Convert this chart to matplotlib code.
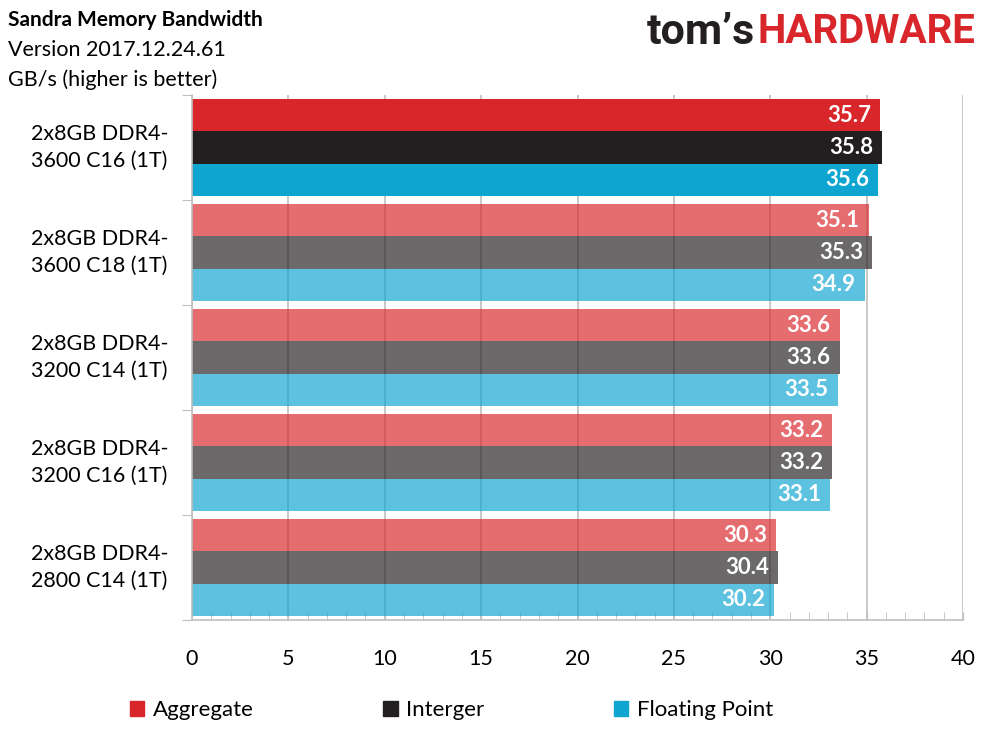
import numpy as np
import matplotlib.pyplot as plt
from matplotlib.patches import Patch
from matplotlib.ticker import MultipleLocator

# data
configs = ["2x8GB DDR4-\n3600 C16 (1T)", "2x8GB DDR4-\n3600 C18 (1T)",
           "2x8GB DDR4-\n3200 C14 (1T)", "2x8GB DDR4-\n3200 C16 (1T)",
           "2x8GB DDR4-\n2800 C14 (1T)"]
series = ["Aggregate", "Interger", "Floating Point"]
aggregate = [35.7, 35.1, 33.6, 33.2, 30.3]
integer = [35.8, 35.3, 33.6, 33.2, 30.4]
floating = [35.6, 34.9, 33.5, 33.1, 30.2]

colors = ["#d9262a", "#231f20", "#0ea5d1"]
plt.rcParams['font.family'] = ['Lato', 'DejaVu Sans']

fig = plt.figure(figsize=(9.89, 7.41), dpi=100)
ax = fig.add_axes([192/989, 1-620/741, 771/989, 525/741])

ypos = np.arange(len(configs))
h = 0.305
for k, vals in enumerate([aggregate, integer, floating]):
    for i, v in enumerate(vals):
        alpha = 1.0 if i == 0 else 0.67
        ax.barh(ypos[i] + (k-1)*h, v, height=h, color=colors[k], alpha=alpha, zorder=2)
        ax.annotate(f"{v:.1f}", (v, ypos[i] + (k-1)*h), xytext=(-6.5, 0),
                    textcoords='offset points', ha='right', va='center',
                    color='white', fontsize=16, fontweight='bold', zorder=3)

ax.set_xlim(0, 40)
ax.set_ylim(len(configs)-0.5, -0.5)
ax.xaxis.set_major_locator(MultipleLocator(5))
ax.xaxis.set_minor_locator(MultipleLocator(1))
ax.grid(axis='x', which='major', color='#bfbfbf', linewidth=1.2, zorder=0)
ax.tick_params(axis='x', which='both', direction='in', length=6, color='#bfbfbf',
               labelsize=15.5, pad=21)
ax.set_yticks(np.arange(len(configs)+1) - 0.5)
ax.set_yticklabels([])
ax.tick_params(axis='y', direction='out', length=7, color='#bfbfbf')
for s in ['top', 'right']:
    ax.spines[s].set_visible(False)
for s in ['left', 'bottom']:
    ax.spines[s].set_color('#bfbfbf')
    ax.spines[s].set_linewidth(1.2)

for i, c in enumerate(configs):
    ax.text(-0.12, ypos[i], c, transform=ax.get_yaxis_transform(), ha='center',
            va='center', fontsize=15.5, linespacing=1.4, multialignment='center')

fig.text(8/989, 1-20/741, "Sandra Memory Bandwidth", fontsize=15, fontweight='bold', va='center')
fig.text(8/989, 1-50/741, "Version 2017.12.24.61", fontsize=15.5, va='center')
fig.text(8/989, 1-80/741, "GB/s (higher is better)", fontsize=15.5, va='center')

# logo
hw = fig.text(975/989, 1-32/741, "HARDWARE", fontsize=29, fontweight='bold',
              color='#d9262a', ha='right', va='center', family='Roboto')
fig.canvas.draw()
bb = hw.get_window_extent()
fig.text((bb.x0 - 2)/989, 1-32/741, "tom\u2019s", fontsize=31, fontweight='bold',
         color='#231f20', ha='right', va='center', family='Roboto')

handles = [Patch(color=c) for c in colors]
fig.legend(handles, series, loc='center left', bbox_to_anchor=(110/989, 1-710/741),
           ncol=3, frameon=False, fontsize=16, handlelength=0.65, handleheight=0.65,
           handletextpad=0.4, columnspacing=5.8)

fig.savefig("out.png", dpi=100)
